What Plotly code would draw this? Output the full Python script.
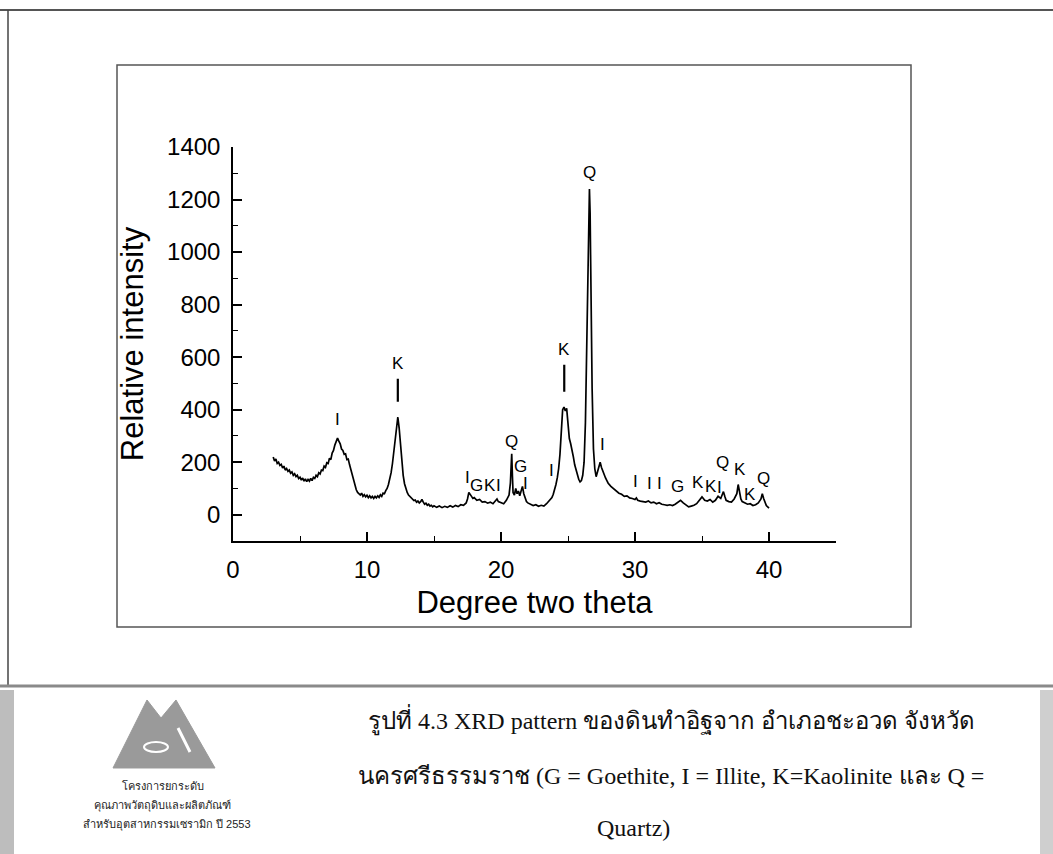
import plotly.graph_objects as go

# ---------------- data ----------------
two_theta = [
    3.0, 3.1, 3.2, 3.3, 3.4, 3.5, 3.6, 3.7, 3.8, 3.9,
    4.0, 4.1, 4.2, 4.3, 4.4, 4.5, 4.6, 4.7, 4.8, 4.9,
    5.0, 5.1, 5.2, 5.3, 5.4, 5.5, 5.6, 5.7, 5.8, 5.9,
    6.0, 6.1, 6.2, 6.3, 6.4, 6.5, 6.6, 6.7, 6.8, 6.9,
    7.0, 7.1, 7.2, 7.3, 7.4, 7.5, 7.6, 7.7, 7.8, 7.9,
    8.0, 8.1, 8.2, 8.3, 8.4, 8.5, 8.6, 8.7, 8.8, 8.9,
    9.0, 9.1, 9.2, 9.3, 9.4, 9.5, 9.6, 9.7, 9.8, 9.9,
    10.0, 10.1, 10.2, 10.3, 10.4, 10.5, 10.6, 10.7, 10.8, 10.9,
    11.0, 11.1, 11.2, 11.3, 11.4, 11.5, 11.6, 11.7, 11.8, 11.9,
    12.0, 12.1, 12.2, 12.3, 12.4, 12.5, 12.6, 12.7, 12.8, 12.9,
    13.0, 13.1, 13.2, 13.3, 13.4, 13.5, 13.6, 13.7, 13.8, 13.9,
    14.0, 14.1, 14.2, 14.3, 14.4, 14.5, 14.6, 14.7, 14.8, 14.9,
    15.0, 15.2, 15.4, 15.6, 15.8, 16.0, 16.2, 16.4, 16.6, 16.8,
    17.0, 17.2, 17.4, 17.5, 17.6, 17.7, 17.8, 17.9, 18.0, 18.2,
    18.4, 18.6, 18.8, 19.0, 19.2, 19.4, 19.6, 19.7, 19.8, 20.0,
    20.2, 20.4, 20.6, 20.7, 20.8, 20.85, 20.9, 21.0, 21.1, 21.2,
    21.3, 21.4, 21.5, 21.6, 21.7, 21.8, 21.9, 22.0, 22.2, 22.4,
    22.6, 22.8, 23.0, 23.2, 23.4, 23.6, 23.8, 23.9, 24.0, 24.1,
    24.2, 24.3, 24.4, 24.5, 24.6, 24.7, 24.8, 24.9, 25.0, 25.1,
    25.2, 25.3, 25.4, 25.5, 25.6, 25.7, 25.8, 25.9, 26.0, 26.1,
    26.2, 26.3, 26.4, 26.5, 26.6, 26.65, 26.7, 26.8, 26.9, 27.0,
    27.1, 27.2, 27.3, 27.4, 27.5, 27.6, 27.7, 27.8, 27.9, 28.0,
    28.2, 28.4, 28.6, 28.8, 29.0, 29.2, 29.4, 29.6, 29.8, 30.0,
    30.1, 30.2, 30.4, 30.6, 30.8, 31.0, 31.2, 31.4, 31.6, 31.8,
    32.0, 32.2, 32.4, 32.6, 32.8, 33.0, 33.2, 33.4, 33.6, 33.8,
    34.0, 34.2, 34.4, 34.6, 34.8, 35.0, 35.1, 35.2, 35.4, 35.6,
    35.8, 36.0, 36.2, 36.4, 36.5, 36.6, 36.7, 36.8, 37.0, 37.2,
    37.4, 37.6, 37.7, 37.8, 37.9, 38.0, 38.2, 38.4, 38.6, 38.8,
    39.0, 39.2, 39.4, 39.5, 39.6, 39.8, 40.0,
]
intensity = [
    220, 205, 212, 195, 200, 188, 192, 178, 185, 170,
    176, 165, 170, 158, 163, 150, 156, 145, 150, 138,
    143, 132, 140, 128, 136, 126, 134, 128, 138, 130,
    142, 138, 150, 145, 160, 155, 170, 168, 185, 180,
    198, 195, 215, 210, 235, 245, 265, 280, 292, 280,
    270, 250, 245, 230, 232, 210, 212, 190, 170, 150,
    125, 105, 95, 85, 80, 75, 82, 70, 76, 68,
    74, 65, 72, 64, 70, 62, 70, 64, 72, 66,
    76, 70, 82, 80, 92, 100, 115, 135, 160, 195,
    240, 300, 350, 372, 330, 260, 195, 150, 118, 98,
    85, 75, 70, 62, 60, 54, 56, 48, 52, 45,
    50, 58, 48, 40, 44, 36, 40, 33, 36, 30,
    34, 28, 33, 27, 32, 28, 34, 29, 35, 31,
    38, 36, 45, 60, 85, 75, 70, 62, 65, 55,
    58, 48, 50, 44, 48, 42, 52, 60, 50, 45,
    42, 55, 75, 120, 232, 150, 85, 75, 100, 80,
    90, 72, 95, 108, 80, 60, 50, 45, 40, 35,
    38, 32, 36, 33, 42, 55, 65, 78, 95, 115,
    140, 175, 230, 330, 400, 410, 395, 405, 330, 290,
    270, 250, 220, 190, 170, 150, 135, 125, 130, 150,
    200, 350, 650, 1050, 1240, 1150, 850, 480, 250, 175,
    145, 165, 185, 200, 180, 165, 158, 140, 130, 120,
    108, 98, 90, 82, 78, 70, 72, 64, 62, 58,
    64, 55, 52, 50, 48, 52, 45, 48, 42, 46,
    40, 38, 36, 38, 35, 40, 48, 55, 45, 36,
    30, 33, 36, 42, 55, 68, 62, 55, 52, 58,
    48, 55, 70, 62, 75, 88, 70, 55, 50, 48,
    60, 80, 115, 85, 60, 50, 46, 40, 42, 35,
    38, 45, 60, 80, 62, 35, 25,
]

# peak labels (mineral letter, 2-theta, label height)
peak_text = ["I", "I", "G", "K", "I", "Q", "G", "I", "I", "Q", "I",
             "I", "I", "I", "G", "K", "K", "I", "Q", "K", "K", "Q"]
peak_x = [7.8, 17.5, 18.15, 19.15, 19.8, 20.75, 21.45, 21.85, 23.8, 26.6, 27.55,
          30.0, 31.05, 31.85, 33.15, 34.7, 35.65, 36.3, 36.5, 37.85, 38.6, 39.6]
peak_y = [364, 141, 110, 110, 110, 279, 182, 118, 167, 1302, 266,
          127, 120, 120, 108, 121, 108, 105, 197, 171, 76, 139]

# labels with a marker bar (Kaolinite main reflections)
bar_text = ["K", "K"]
bar_x = [12.3, 24.72]
bar_tip = [430, 468]
bar_offset = [-38, -42]

x_ticks = [0, 10, 20, 30, 40]
y_ticks = [0, 200, 400, 600, 800, 1000, 1200, 1400]

caption_lines = [
    "รูปที่ 4.3 XRD pattern ของดินทำอิฐจาก อำเภอชะอวด จังหวัด",
    "นครศรีธรรมราช (G = Goethite, I = Illite, K=Kaolinite และ Q =",
    "Quartz)",
]
logo_lines = [
    "โครงการยกระดับ",
    "คุณภาพวัตถุดิบและผลิตภัณฑ์",
    "สำหรับอุตสาหกรรมเซรามิก ปี 2553",
]

# ---------------- layout helpers (page pixels -> paper) ----------------
W, H = 1053, 854
PL, PR, PT, PB = 233, 836, 147, 541


def px(x):
    return (x - PL) / (PR - PL)


def py(y):
    return (PB - y) / (PB - PT)


fig = go.Figure()
fig.add_trace(go.Scatter(
    x=two_theta, y=intensity, mode="lines",
    line=dict(color="black", width=1.7), showlegend=False,
    hoverinfo="skip",
))

label_font = dict(family="Liberation Sans, Arial", size=17, color="black")
annos = []
for t, xv, yv in zip(peak_text, peak_x, peak_y):
    annos.append(dict(x=xv, y=yv, xref="x", yref="y", text=t, showarrow=False,
                      font=label_font, borderpad=0))
for t, xv, yv, off in zip(bar_text, bar_x, bar_tip, bar_offset):
    annos.append(dict(x=xv, y=yv, xref="x", yref="y", text=t, showarrow=True,
                      arrowhead=0, arrowwidth=2.2, arrowcolor="black", ax=0, ay=off,
                      standoff=0, startstandoff=4, font=label_font))

serif = "Liberation Serif, Times New Roman, serif"
cap_pos = [(671, 720), (671, 776), (633, 828)]
for line, (cx, cy) in zip(caption_lines, cap_pos):
    annos.append(dict(x=px(cx), y=py(cy), xref="paper", yref="paper", text=line,
                      showarrow=False, xanchor="center", yanchor="middle",
                      font=dict(family=serif, size=24, color="#111")))
logo_pos = [(163, 785), (162, 805), (167, 824)]
for line, (cx, cy) in zip(logo_lines, logo_pos):
    annos.append(dict(x=px(cx), y=py(cy), xref="paper", yref="paper", text=line,
                      showarrow=False, xanchor="center", yanchor="middle",
                      font=dict(family="Liberation Sans Narrow, Liberation Sans, Arial", size=11, color="#222")))

shapes = []
# page frame
shapes.append(dict(type="line", xref="paper", yref="paper", x0=px(0), x1=px(W), y0=py(10), y1=py(10),
                   line=dict(color="#555", width=2)))
shapes.append(dict(type="line", xref="paper", yref="paper", x0=px(8), x1=px(8), y0=py(10), y1=py(686),
                   line=dict(color="#444", width=1.5)))
# chart frame
shapes.append(dict(type="rect", xref="paper", yref="paper", x0=px(117), x1=px(911), y0=py(65), y1=py(627),
                   line=dict(color="#555", width=1.5)))
# caption band separator and edge shading
shapes.append(dict(type="line", xref="paper", yref="paper", x0=px(0), x1=px(W), y0=py(686), y1=py(686),
                   line=dict(color="#8a8a8a", width=3)))
shapes.append(dict(type="rect", xref="paper", yref="paper", x0=px(0), x1=px(14), y0=py(690), y1=py(854),
                   line=dict(width=0), fillcolor="#bdbdbd", layer="below"))
shapes.append(dict(type="rect", xref="paper", yref="paper", x0=px(1040), x1=px(W), y0=py(690), y1=py(854),
                   line=dict(width=0), fillcolor="#cfcfcf", layer="below"))
# logo (two-peaked mountain)
pts = [(113, 768), (147, 700), (161, 718), (176, 700), (215, 768)]
path = "M " + " L ".join(f"{px(a):.5f},{py(b):.5f}" for a, b in pts) + " Z"
shapes.append(dict(type="path", xref="paper", yref="paper", path=path,
                   line=dict(color="#9a9a9a", width=1), fillcolor="#9a9a9a"))
shapes.append(dict(type="circle", xref="paper", yref="paper", x0=px(144), x1=px(168), y0=py(742), y1=py(752),
                   line=dict(color="white", width=2), fillcolor="rgba(0,0,0,0)"))
shapes.append(dict(type="line", xref="paper", yref="paper", x0=px(178), x1=px(190), y0=py(728), y1=py(752),
                   line=dict(color="white", width=3)))

axis_font = dict(family="Liberation Sans, Arial", size=24, color="black")
title_font = dict(family="Liberation Sans, Arial", size=31, color="black")

fig.update_layout(
    width=W, height=H,
    margin=dict(l=PL, r=W - PR, t=PT, b=H - PB),
    paper_bgcolor="white", plot_bgcolor="rgba(0,0,0,0)",
    showlegend=False,
    annotations=annos, shapes=shapes,
    xaxis=dict(range=[0, 45], tickvals=x_ticks, ticks="inside", ticklen=9, tickwidth=1.5,
               tickcolor="black", showline=True, linecolor="black", linewidth=1.5,
               showgrid=False, zeroline=False, tickfont=axis_font, ticklabelstandoff=6,
               minor=dict(dtick=5, tick0=0, ticks="inside", ticklen=5, tickcolor="black", tickwidth=1.2, showgrid=False),
               title=dict(text="Degree two theta", font=title_font, standoff=10)),
    yaxis=dict(range=[-100, 1400], tickvals=y_ticks, ticks="inside", ticklen=9, tickwidth=1.5,
               tickcolor="black", showline=True, linecolor="black", linewidth=1.5,
               showgrid=False, zeroline=False, tickfont=axis_font, ticklabelstandoff=6,
               minor=dict(dtick=100, tick0=0, ticks="inside", ticklen=5, tickcolor="black", tickwidth=1.2, showgrid=False),
               title=dict(text="Relative intensity", font=title_font, standoff=14)),
)

fig.write_html("out.html")
